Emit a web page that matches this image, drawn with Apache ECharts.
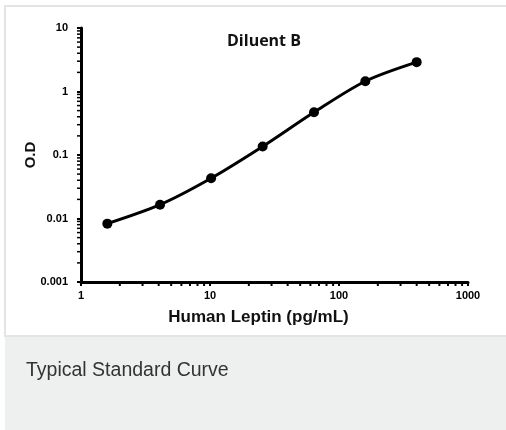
<!DOCTYPE html>
<html><head><meta charset="utf-8">
<script src="https://cdn.jsdelivr.net/npm/echarts@6/dist/echarts.min.js"></script>
<style>html,body{margin:0;padding:0;background:#fff}#c{width:506px;height:430px}</style>
</head><body><div id="c"></div>
<script>
const concentrations = [1.6, 4.1, 10.2, 25.6, 64, 160, 400];
const odValues = [0.0083, 0.0165, 0.043, 0.136, 0.47, 1.45, 2.9];
const xMinorTicks = [2,3,4,5,6,7,8,9,20,30,40,50,60,70,80,90,200,300,400,500,600,700,800,900];
const yMinorTicks = [0.002,0.003,0.004,0.005,0.006,0.007,0.008,0.009,0.02,0.03,0.04,0.05,0.06,0.07,0.08,0.09,0.2,0.3,0.4,0.5,0.6,0.7,0.8,0.9,2,3,4,5,6,7,8,9];
const chartTitle = 'Diluent B';
const xName = 'Human Leptin (pg/mL)';
const yName = 'O.D';
const caption = 'Typical Standard Curve';

const chart = echarts.init(document.getElementById('c'));
const labelFont = {color:'#000', fontWeight:'bold', fontSize:11, fontFamily:'Liberation Sans, Arial, sans-serif'};
chart.setOption({
  animation:false,
  graphic:[
    {type:'rect', z:-10, shape:{x:5,y:6,width:506,height:330}, style:{fill:'#fff', stroke:'#e3e4e4', lineWidth:2}},
    {type:'rect', z:-10, shape:{x:5,y:337,width:501,height:93}, style:{fill:'#eeefef'}},
    {type:'text', left:26, top:361, style:{text:caption, fill:'#333', fontSize:19.5, fontFamily:'Liberation Sans, Arial, sans-serif'}}
  ],
  title:{text:chartTitle, left:259, top:28, textAlign:'center',
    textStyle:{fontSize:16, fontWeight:'bold', color:'#111', fontFamily:'Open Sans, Noto Sans, sans-serif'}},
  grid:{left:81, right:38, top:28, bottom:148},
  xAxis:{type:'log', logBase:10, min:1, max:1000,
    name:xName, nameLocation:'middle', nameGap:27, nameMoveOverlap:false,
    nameTextStyle:{fontSize:17, fontWeight:'bold', color:'#111', fontFamily:'Liberation Sans, Arial, sans-serif', padding:[0,32,0,0]},
    axisLine:{lineStyle:{color:'#000', width:3}},
    axisTick:{show:true, inside:false, length:4, lineStyle:{color:'#000', width:2}},
    axisLabel:Object.assign({margin:8, formatter:function(v){return String(Math.round(v));}}, labelFont),
    splitLine:{show:false}, minorTick:{show:false}},
  yAxis:{type:'log', logBase:10, min:0.001, max:10,
    name:yName, nameLocation:'middle', nameGap:43, nameRotate:90, nameMoveOverlap:false,
    nameTextStyle:{fontSize:15, fontWeight:'bold', color:'#111', fontFamily:'Liberation Sans, Arial, sans-serif'},
    axisLine:{lineStyle:{color:'#000', width:3}},
    axisTick:{show:true, inside:false, length:4, lineStyle:{color:'#000', width:2}},
    axisLabel:Object.assign({margin:13, formatter:function(v){return String(+v.toPrecision(3));}}, labelFont),
    splitLine:{show:false}},
  series:[
    {type:'line', data:concentrations.map((c,i)=>[c, odValues[i]]), smooth:0.3,
      symbol:'circle', symbolSize:10, lineStyle:{color:'#000', width:3},
      itemStyle:{color:'#000'}, z:5},
    {type:'custom', clip:false, silent:true, data:xMinorTicks.map(v=>[v]),
      encode:{x:0},
      renderItem:function(params, api){
        const p = api.coord([api.value(0), 0.001]);
        return {type:'line', shape:{x1:p[0], y1:p[1]+1, x2:p[0], y2:p[1]+4}, style:{stroke:'#000', lineWidth:2}};
      }},
    {type:'custom', clip:false, silent:true, data:yMinorTicks.map(v=>[1, v]),
      encode:{x:0, y:1},
      renderItem:function(params, api){
        const p = api.coord([1, api.value(1)]);
        return {type:'line', shape:{x1:p[0]-4, y1:p[1], x2:p[0]-1, y2:p[1]}, style:{stroke:'#000', lineWidth:1.5}};
      }}
  ]
});
</script></body></html>
